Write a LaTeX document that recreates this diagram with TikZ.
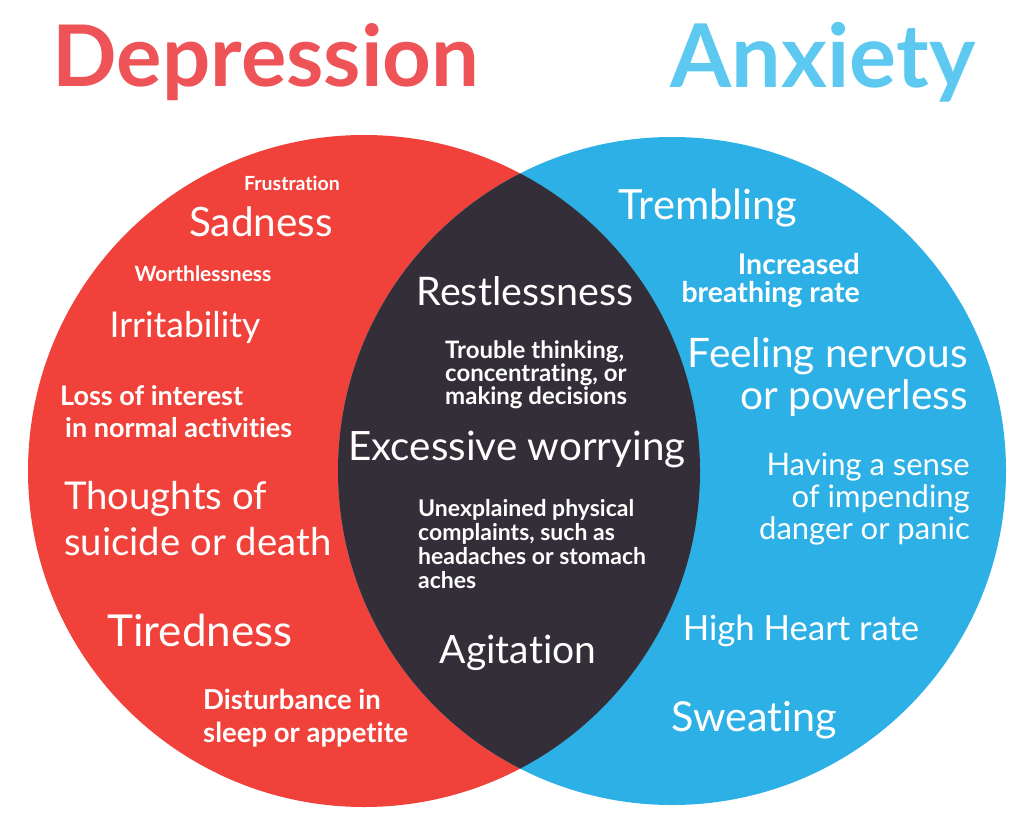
\documentclass[tikz,border=0pt]{standalone}
\usepackage{fontspec}
\setmainfont{Lato}[Ligatures=NoCommon]
\usepackage{tikz}
\usetikzlibrary{positioning}

\definecolor{deprred}{HTML}{F0423A}
\definecolor{anxblue}{HTML}{2DB0E6}
\definecolor{overlapdark}{HTML}{332E37}
\definecolor{titlered}{HTML}{EE5357}
\definecolor{titleblue}{HTML}{5DC9F1}

\tikzset{
    title/.style={font=\fontsize{85}{90}\selectfont\bfseries, inner sep=0pt},
    big/.style={text=white, inner sep=0pt, font=\fontsize{40}{46}\selectfont},
    mid/.style={text=white, inner sep=0pt, font=\fontsize{27}{32}\selectfont\bfseries},
    small/.style={text=white, inner sep=0pt, font=\fontsize{20}{21}\selectfont\bfseries}
}

\begin{document}
\begin{tikzpicture}[x=1pt, y=-1pt]
    \useasboundingbox (0,0) rectangle (1024,832);
    \fill[white] (0,0) rectangle (1024,832);

    % circles
    \coordinate (dcen) at (364,471);
    \coordinate (acen) at (672,471);
    \fill[deprred] (dcen) circle[radius=336pt];
    \fill[anxblue] (acen) circle[radius=334pt];
    \begin{scope}
        \clip (dcen) circle[radius=336pt];
        \fill[overlapdark] (acen) circle[radius=334pt];
    \end{scope}

    % titles
    \node[title, text=titlered] (deprtitle) at (266,62) {Depression};
    \node[title, text=titleblue, font=\fontsize{88}{90}\selectfont\bfseries] (anxtitle) at (823,62) {Anxiety};

    % depression side
    \node[small, font=\fontsize{19.5}{21}\selectfont\bfseries] (frustration) at (292,183) {Frustration};
    \node[big, font=\fontsize{40.5}{44}\selectfont] (sadness) at (261,222) {Sadness};
    \node[small, font=\fontsize{21}{22}\selectfont\bfseries] (worthless) at (203,274) {Worthlessness};
    \node[big, font=\fontsize{35.5}{40}\selectfont] (irritab) at (185,327) {Irritability};
    \node[mid, align=left, anchor=west] (lossint) at (60,412) {Loss of interest\\\hspace{5pt}in normal activities};
    \node[big, font=\fontsize{38.3}{46}\selectfont, align=left, anchor=west] (suicide) at (64,519) {Thoughts of\\suicide or death};
    \node[big, font=\fontsize{44}{48}\selectfont] (tired) at (200,630) {Tiredness};
    \node[mid, font=\fontsize{27.5}{33}\selectfont\bfseries, align=left, anchor=west] (disturb) at (203,718) {Disturbance in\\sleep or appetite};

    % overlap
    \node[big, font=\fontsize{39.4}{44}\selectfont] (restless) at (525,291) {Restlessness};
    \node[small, font=\fontsize{24}{21}\selectfont\bfseries, align=left, anchor=west] (trouble) at (445,375) {Trouble thinking,\\concentrating, or\\making decisions};
    \node[big, font=\fontsize{40.4}{44}\selectfont] (worrying) at (517,449) {Excessive worrying};
    \node[mid, font=\fontsize{23}{24}\selectfont\bfseries, align=left, anchor=west] (unexpl) at (418,544) {Unexplained physical\\complaints, such as\\headaches or stomach\\aches};
    \node[big, font=\fontsize{39}{44}\selectfont] (agitation) at (518,653) {Agitation};

    % anxiety side
    \node[big, font=\fontsize{41.6}{44}\selectfont] (trembling) at (708,208) {Trembling};
    \node[mid, font=\fontsize{28.5}{28}\selectfont\bfseries, align=right, anchor=east] (breathing) at (860,280) {Increased\\breathing rate};
    \node[big, font=\fontsize{40.6}{42}\selectfont, align=right, anchor=east] (nervous) at (968,377) {Feeling nervous\\or powerless};
    \node[big, font=\fontsize{31}{31.7}\selectfont, align=right, anchor=east] (danger) at (970,499) {Having a sense\\of impending\\danger or panic};
    \node[big, font=\fontsize{34.7}{40}\selectfont] (heart) at (801,631) {High Heart rate};
    \node[big, font=\fontsize{41.3}{44}\selectfont] (sweating) at (754,720) {Sweating};
\end{tikzpicture}
\end{document}
